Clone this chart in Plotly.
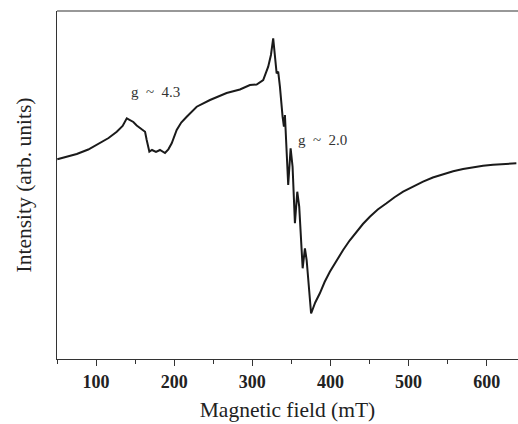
import plotly.graph_objects as go

# Magnetic field (mT) and EPR intensity (arb. units)
field_mT = [50.4, 62.0, 75.3, 90.0, 105.1, 116.0, 126.5, 134.0, 139.3, 141.3,
            147.7, 152.0, 156.3, 162.7, 164.8, 168.2, 171.6, 176.7, 181.8, 188.2,
            192.5, 196.8, 203.2, 209.0, 216.0, 228.8, 245.8, 267.1, 284.1, 296.9,
            305.5, 313.9, 320.3, 323.8, 326.7, 328.9, 331.1, 333.1, 335.3, 338.7,
            340.4, 341.7, 345.9, 349.0, 351.5, 354.5, 357.5, 360.0, 364.4, 367.3,
            369.5, 375.2, 380.5, 386.4, 392.5, 399.2, 407.5, 416.2, 424.5, 433.4,
            441.5, 450.4, 460.5, 471.7, 482.0, 493.0, 505.5, 518.5, 531.0, 544.1,
            557.0, 569.7, 582.5, 595.3, 608.0, 620.8, 637.9]
intensity = [199.7, 202.0, 205.0, 209.5, 215.7, 221.0, 227.3, 233.0, 240.7, 239.7,
             237.0, 233.5, 231.0, 227.3, 219.0, 207.3, 209.0, 207.0, 209.0, 206.0,
             209.7, 215.7, 229.0, 236.5, 242.3, 252.3, 259.0, 266.0, 269.5, 274.0,
             274.5, 279.0, 292.3, 304.0, 320.7, 299.0, 285.7, 287.3, 272.3, 242.3,
             232.3, 244.0, 174.0, 210.7, 192.3, 135.7, 167.3, 152.3, 90.7, 110.7,
             99.0, 45.5, 56.5, 65.7, 77.0, 87.3, 98.5, 109.0, 118.5, 127.3,
             135.0, 142.3, 149.5, 155.7, 161.8, 167.3, 172.5, 177.3, 181.5, 185.0,
             187.8, 190.0, 191.8, 193.3, 194.3, 195.0, 195.7]

x_ticks = [100, 200, 300, 400, 500, 600]
labels = ["g ~ 4.3", "g ~ 2.0"]
label_x = [176, 389.6]
label_y = [267, 219]

serif = "Liberation Serif, Times New Roman, serif"

fig = go.Figure()
fig.add_trace(go.Scatter(x=field_mT, y=intensity, mode="lines",
                         line=dict(color="#1a1a1a", width=2), showlegend=False))

for t, xv, yv in zip(labels, label_x, label_y):
    fig.add_annotation(x=xv, y=yv, text=t.replace(" ", "\u00a0\u00a0"), showarrow=False,
                       font=dict(family=serif, size=15, color="#333333"))

# top frame line
fig.add_shape(type="line", xref="paper", yref="paper", x0=0, x1=1, y0=1, y1=1,
              line=dict(color="#333333", width=1.2))

fig.update_layout(
    width=518, height=424,
    margin=dict(l=57, r=0, t=11, b=65),
    paper_bgcolor="white", plot_bgcolor="white",
    font=dict(family=serif, color="#222222"),
)
fig.update_xaxes(
    range=[50, 640], showgrid=False, zeroline=False,
    showline=True, linecolor="#333333", linewidth=1.2,
    ticks="outside", ticklen=6, tickwidth=1, tickcolor="#333333",
    tickvals=x_ticks, ticktext=[str(v) for v in x_ticks],
    tickfont=dict(family=serif, size=18, color="#222222", weight="bold"),
    minor=dict(dtick=50, tick0=50, ticks="outside", ticklen=4, tickcolor="#333333"),
    title=dict(text="Magnetic field (mT)", font=dict(family=serif, size=21.5, color="#222222"),
               standoff=11),
)
fig.update_yaxes(
    range=[0, 348], showgrid=False, zeroline=False,
    showline=True, linecolor="#333333", linewidth=1.2,
    showticklabels=False, ticks="",
    title=dict(text="Intensity (arb. units)", font=dict(family=serif, size=21.5, color="#222222"),
               standoff=18),
)

fig.write_html("out.html")
